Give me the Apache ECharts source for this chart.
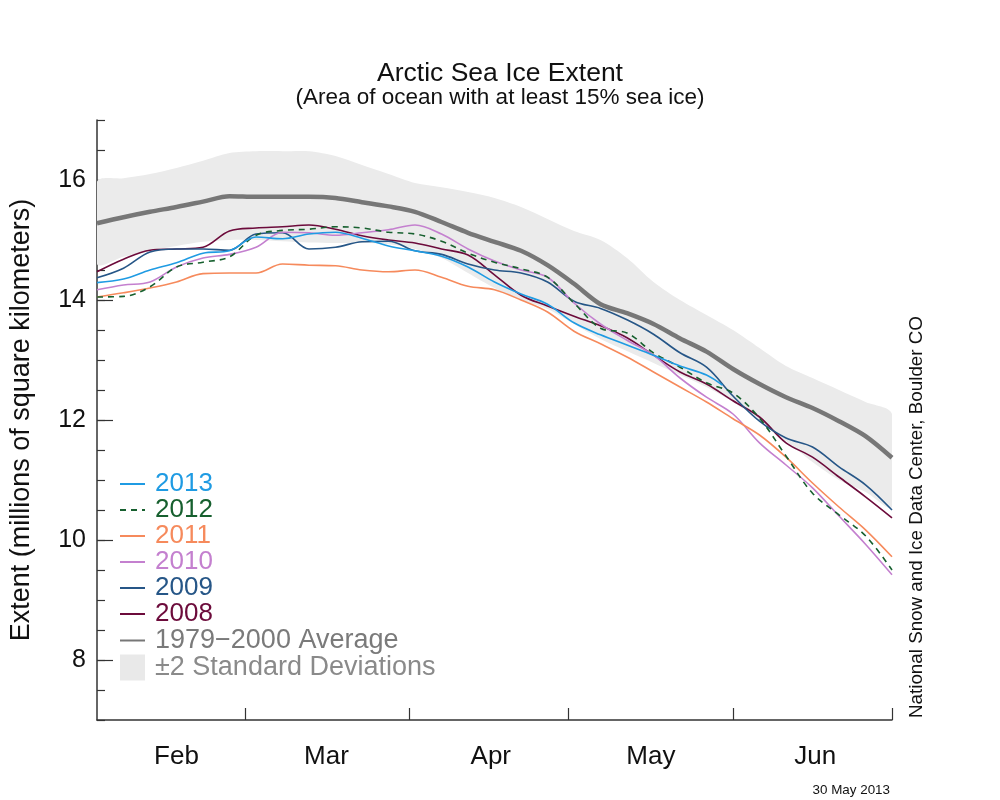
<!DOCTYPE html>
<html>
<head>
<meta charset="utf-8">
<script src="https://cdn.jsdelivr.net/npm/echarts@6/dist/echarts.min.js"></script>
<style>
html,body{margin:0;padding:0;background:#fff;}
#chart{width:1000px;height:800px;}
</style>
</head>
<body>
<div id="chart"></div>
<script>
// Days since 1 Feb (5-day steps)
const days = [0,5,10,15,20,25,30,35,40,45,50,55,60,65,70,75,80,85,90,95,100,105,110,115,120,125,130,135,140,145,150];
const days2013 = [0,5,10,15,20,25,30,35,40,45,50,55,60,65,70,75,80,85,90,95,100,105,110,115,118];

const monthTicks = [28,59,89,120,150];
const monthLabelDays = [15,43.3,74.3,104.5,135.5];
const monthNames = ['Feb','Mar','Apr','May','Jun'];
const yMajorTicks = [8,10,12,14,16];

const avg7900 = [15.28,15.38,15.47,15.55,15.64,15.73,15.72,15.72,15.72,15.70,15.63,15.56,15.47,15.30,15.12,14.97,14.82,14.58,14.27,13.93,13.78,13.60,13.36,13.14,12.85,12.60,12.38,12.20,11.98,11.73,11.37];
const sdTop = [15.97,16.03,16.10,16.20,16.32,16.45,16.48,16.48,16.48,16.40,16.25,16.10,15.95,15.88,15.80,15.70,15.55,15.35,15.15,15.00,14.70,14.30,14.00,13.75,13.50,13.20,12.90,12.70,12.50,12.30,12.10];
const sdBottom = [14.60,14.72,14.82,14.90,14.97,15.00,15.00,14.98,14.96,14.95,14.95,14.93,14.85,14.70,14.45,14.20,14.00,13.85,13.60,13.35,13.15,12.95,12.75,12.55,12.30,12.00,11.65,11.30,11.00,10.80,10.55];

const y2013 = [14.29,14.35,14.50,14.62,14.78,14.82,15.05,15.02,15.10,15.13,15.03,14.90,14.82,14.73,14.55,14.30,14.10,13.93,13.62,13.42,13.25,13.08,12.90,12.75,12.58];
const y2012 = [14.05,14.06,14.22,14.55,14.63,14.72,15.08,15.16,15.18,15.22,15.20,15.13,15.10,14.98,14.78,14.63,14.52,14.38,13.95,13.53,13.45,13.12,12.88,12.62,12.45,12.03,11.40,10.78,10.42,10.07,9.50];
const y2011 = [14.05,14.12,14.20,14.30,14.44,14.45,14.45,14.60,14.58,14.57,14.50,14.47,14.50,14.38,14.23,14.17,14.00,13.80,13.48,13.27,13.05,12.80,12.55,12.30,12.02,11.75,11.38,10.95,10.55,10.17,9.72];
const y2010 = [14.17,14.25,14.30,14.55,14.70,14.76,14.88,15.13,15.12,15.08,15.12,15.17,15.25,15.10,14.85,14.65,14.50,14.38,13.95,13.60,13.33,13.08,12.70,12.38,12.10,11.62,11.25,10.87,10.40,9.93,9.42];
const y2009 = [14.37,14.53,14.80,14.85,14.85,14.83,15.10,15.12,14.85,14.88,14.97,14.98,14.82,14.76,14.60,14.50,14.45,14.30,13.98,13.86,13.67,13.43,13.12,12.88,12.40,11.98,11.70,11.55,11.22,10.92,10.50];
const y2008 = [14.47,14.68,14.83,14.85,14.88,15.15,15.20,15.22,15.25,15.18,15.07,15.00,14.95,14.85,14.75,14.42,14.08,13.90,13.73,13.57,13.37,13.08,12.80,12.60,12.32,12.05,11.62,11.38,11.05,10.72,10.37];

const pairs = (xs, ys) => xs.map((d, i) => [d, ys[i]]);

const FONT = '"Liberation Sans", Arial, Helvetica, sans-serif';
const BAND_NAME = '±2 Standard Deviations';
const AVG_NAME = '1979\u22122000 Average';

const yearSeries = [
  {name:'2013', data:pairs(days2013, y2013), color:'#1f9be3', type:'solid'},
  {name:'2012', data:pairs(days, y2012), color:'#17602f', type:[6,5]},
  {name:'2011', data:pairs(days, y2011), color:'#f68a5c', type:'solid'},
  {name:'2010', data:pairs(days, y2010), color:'#c480cf', type:'solid'},
  {name:'2009', data:pairs(days, y2009), color:'#265687', type:'solid'},
  {name:'2008', data:pairs(days, y2008), color:'#6c0b3b', type:'solid'}
];

const series = [
  {
    name:BAND_NAME, type:'custom', silent:true, z:1, clip:true,
    itemStyle:{color:'#ebebeb'}, color:'#ebebeb',
    data:days.map((d,i)=>[d, sdBottom[i], sdTop[i]]),
    encode:{x:0, y:[1,2]},
    renderItem:(params, api) => {
      if (params.dataIndex !== 0) return null;
      const top = days.map((d,i)=>api.coord([d, sdTop[i]]));
      const bot = days.map((d,i)=>api.coord([d, sdBottom[i]])).reverse();
      return {type:'polygon', shape:{points:top.concat(bot), smooth:0.3}, style:{fill:'#ebebeb'}};
    }
  },
  {
    name:AVG_NAME, type:'line', data:pairs(days, avg7900), symbol:'none', smooth:0.3,
    lineStyle:{color:'#777777', width:4.5}, itemStyle:{color:'#777777'}, color:'#777777', z:2
  }
];
yearSeries.slice().reverse().forEach(s => {
  series.push({
    name:s.name, type:'line', data:s.data, symbol:'none', smooth:0.35,
    lineStyle:{color:s.color, width:1.6, type:s.type}, itemStyle:{color:s.color}, color:s.color, z:3
  });
});

const legendData = yearSeries.map(s => ({name:s.name, itemStyle:{opacity:0}, textStyle:{color:s.color, fontSize:26}}));
legendData.push({name:AVG_NAME, itemStyle:{opacity:0}, textStyle:{color:'#7a7a7a', fontSize:27}});
legendData.push({name:BAND_NAME, icon:'rect', itemStyle:{color:'#e9e9e9', opacity:1}, textStyle:{color:'#8a8a8a', fontSize:27}});

const chart = echarts.init(document.getElementById('chart'), null, {renderer:'canvas'});
chart.setOption({
  backgroundColor:'#ffffff',
  animation:false,
  textStyle:{fontFamily:FONT},
  title:{
    text:'Arctic Sea Ice Extent',
    subtext:'(Area of ocean with at least 15% sea ice)',
    left:495, top:55, textAlign:'center', itemGap:-1,
    textStyle:{fontSize:26.5, fontWeight:'normal', color:'#111', fontFamily:FONT},
    subtextStyle:{fontSize:22.5, color:'#111', fontFamily:FONT}
  },
  legend:{
    orient:'vertical', left:114, top:466,
    itemWidth:25, itemHeight:26, itemGap:0,
    data:legendData,
    textStyle:{fontSize:26, fontFamily:FONT, padding:[0,0,0,5], lineHeight:26},
    selectedMode:false
  },
  grid:{left:95, right:108, top:120, bottom:80, containLabel:false},
  xAxis:[{
    type:'value', min:0, max:150,
    axisLine:{show:true, lineStyle:{color:'#333', width:1.5}},
    axisTick:{show:true, inside:true, length:12, customValues:monthTicks, lineStyle:{color:'#333', width:1.2}},
    axisLabel:{show:true, customValues:monthLabelDays, margin:24, fontSize:26, color:'#111', fontFamily:FONT,
      formatter:(v)=>{const i = monthLabelDays.indexOf(v); return i>=0 ? monthNames[i] : '';}},
    splitLine:{show:false}
  }],
  yAxis:[{
    type:'value', min:7, max:17, interval:0.5,
    name:'Extent (millions of square kilometers)', nameLocation:'middle', nameGap:62,
    nameTextStyle:{fontSize:27, color:'#111', fontFamily:FONT},
    axisLine:{show:true, lineStyle:{color:'#333', width:1.5}},
    axisTick:{show:true, inside:true, length:8, lineStyle:{color:'#333', width:1.2}},
    axisLabel:{show:true, customValues:yMajorTicks, margin:11, fontSize:25, color:'#111', fontFamily:FONT},
    splitLine:{show:false}
  },{
    type:'value', min:7, max:17, position:'left',
    axisLine:{show:false},
    axisTick:{show:true, inside:true, length:16, customValues:yMajorTicks, lineStyle:{color:'#333', width:1.2}},
    axisLabel:{show:false},
    splitLine:{show:false}
  }],
  graphic:[
    {type:'text', x:917, y:718, rotation:Math.PI/2,
      style:{text:'National Snow and Ice Data Center, Boulder CO', fontSize:18.8, fill:'#111', fontFamily:FONT, textAlign:'left', textVerticalAlign:'middle'}},
    {type:'text', x:890, y:790,
      style:{text:'30 May 2013', fontSize:13.4, fill:'#111', fontFamily:FONT, textAlign:'right', textVerticalAlign:'middle'}}
  ],
  series:series
});
</script>
</body>
</html>
